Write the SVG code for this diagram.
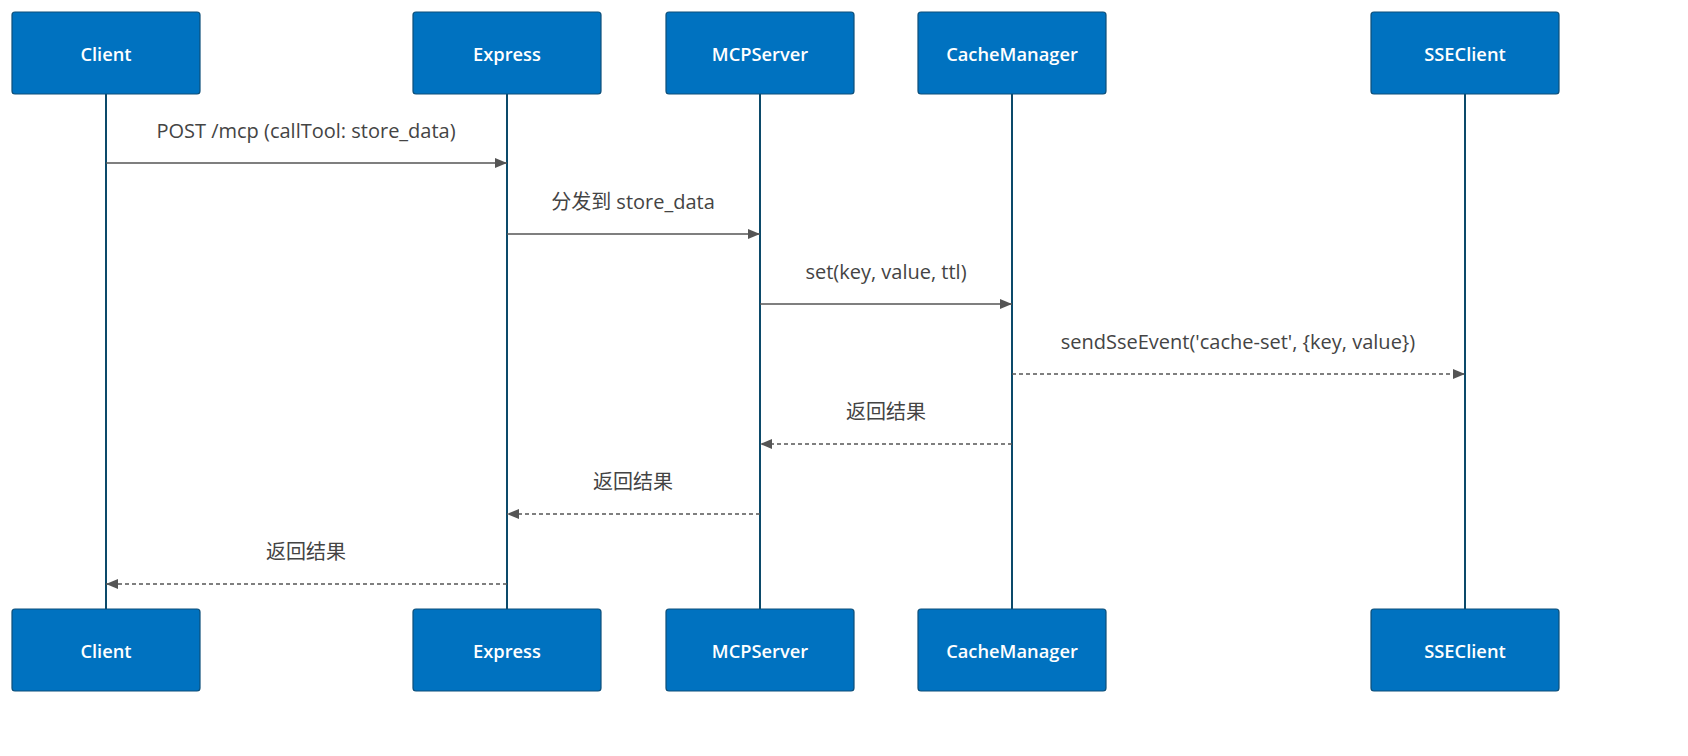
<svg xmlns="http://www.w3.org/2000/svg" width="1688" height="756" viewBox="0 0 1688 756">
<defs>
<style>
.actor{fill:#0072c0;stroke:#0c4f7a;stroke-width:1.2}
.atext{fill:#ffffff;font-family:"Open Sans","DejaVu Sans",sans-serif;font-size:18.3px;font-weight:600;text-anchor:middle;dominant-baseline:central}
.life{stroke:#0c4a6a;stroke-width:2}
.msg{stroke:#555555;stroke-width:1.6;fill:none}
.dash{stroke-dasharray:4,3}
.mtext{fill:#444444;font-family:"Open Sans","DejaVu Sans","Noto Sans CJK SC",sans-serif;font-size:20px;text-anchor:middle;dominant-baseline:central}
</style>
<marker id="arr" viewBox="0 0 12 10" refX="12" refY="5" markerWidth="12" markerHeight="10" markerUnits="userSpaceOnUse" orient="auto">
<path d="M0,0 L12,5 L0,10 z" fill="#555555"/>
</marker>
</defs>
<rect width="1688" height="756" fill="#ffffff"/>
<g id="lifelines">
<line class="life" x1="106" y1="94" x2="106" y2="609"/>
<line class="life" x1="507" y1="94" x2="507" y2="609"/>
<line class="life" x1="760" y1="94" x2="760" y2="609"/>
<line class="life" x1="1012" y1="94" x2="1012" y2="609"/>
<line class="life" x1="1465" y1="94" x2="1465" y2="609"/>
</g>
<g id="Client"><rect class="actor" x="12" y="12" width="188" height="82" rx="3"/><text class="atext" x="106" y="53">Client</text></g>
<g id="Express"><rect class="actor" x="413" y="12" width="188" height="82" rx="3"/><text class="atext" x="507" y="53">Express</text></g>
<g id="MCPServer"><rect class="actor" x="666" y="12" width="188" height="82" rx="3"/><text class="atext" x="760" y="53">MCPServer</text></g>
<g id="CacheManager"><rect class="actor" x="918" y="12" width="188" height="82" rx="3"/><text class="atext" x="1012" y="53">CacheManager</text></g>
<g id="SSEClient"><rect class="actor" x="1371" y="12" width="188" height="82" rx="3"/><text class="atext" x="1465" y="53">SSEClient</text></g>
<g id="Client-bottom"><rect class="actor" x="12" y="609" width="188" height="82" rx="3"/><text class="atext" x="106" y="650">Client</text></g>
<g id="Express-bottom"><rect class="actor" x="413" y="609" width="188" height="82" rx="3"/><text class="atext" x="507" y="650">Express</text></g>
<g id="MCPServer-bottom"><rect class="actor" x="666" y="609" width="188" height="82" rx="3"/><text class="atext" x="760" y="650">MCPServer</text></g>
<g id="CacheManager-bottom"><rect class="actor" x="918" y="609" width="188" height="82" rx="3"/><text class="atext" x="1012" y="650">CacheManager</text></g>
<g id="SSEClient-bottom"><rect class="actor" x="1371" y="609" width="188" height="82" rx="3"/><text class="atext" x="1465" y="650">SSEClient</text></g>
<g id="connectors">
<line class="msg" x1="106" y1="163" x2="507" y2="163" marker-end="url(#arr)"/>
<text class="mtext" x="306" y="130">POST /mcp (callTool: store_data)</text>
<line class="msg" x1="507" y1="234" x2="760" y2="234" marker-end="url(#arr)"/>
<text class="mtext" x="633" y="201">分发到 store_data</text>
<line class="msg" x1="760" y1="304" x2="1012" y2="304" marker-end="url(#arr)"/>
<text class="mtext" x="886" y="271">set(key, value, ttl)</text>
<line class="msg dash" x1="1012" y1="374" x2="1465" y2="374" marker-end="url(#arr)"/>
<text class="mtext" x="1238" y="341">sendSseEvent('cache-set', {key, value})</text>
<line class="msg dash" x1="1012" y1="444" x2="760" y2="444" marker-end="url(#arr)"/>
<text class="mtext" x="886" y="411">返回结果</text>
<line class="msg dash" x1="760" y1="514" x2="507" y2="514" marker-end="url(#arr)"/>
<text class="mtext" x="633" y="481">返回结果</text>
<line class="msg dash" x1="507" y1="584" x2="106" y2="584" marker-end="url(#arr)"/>
<text class="mtext" x="306" y="551">返回结果</text>
</g>
</svg>
